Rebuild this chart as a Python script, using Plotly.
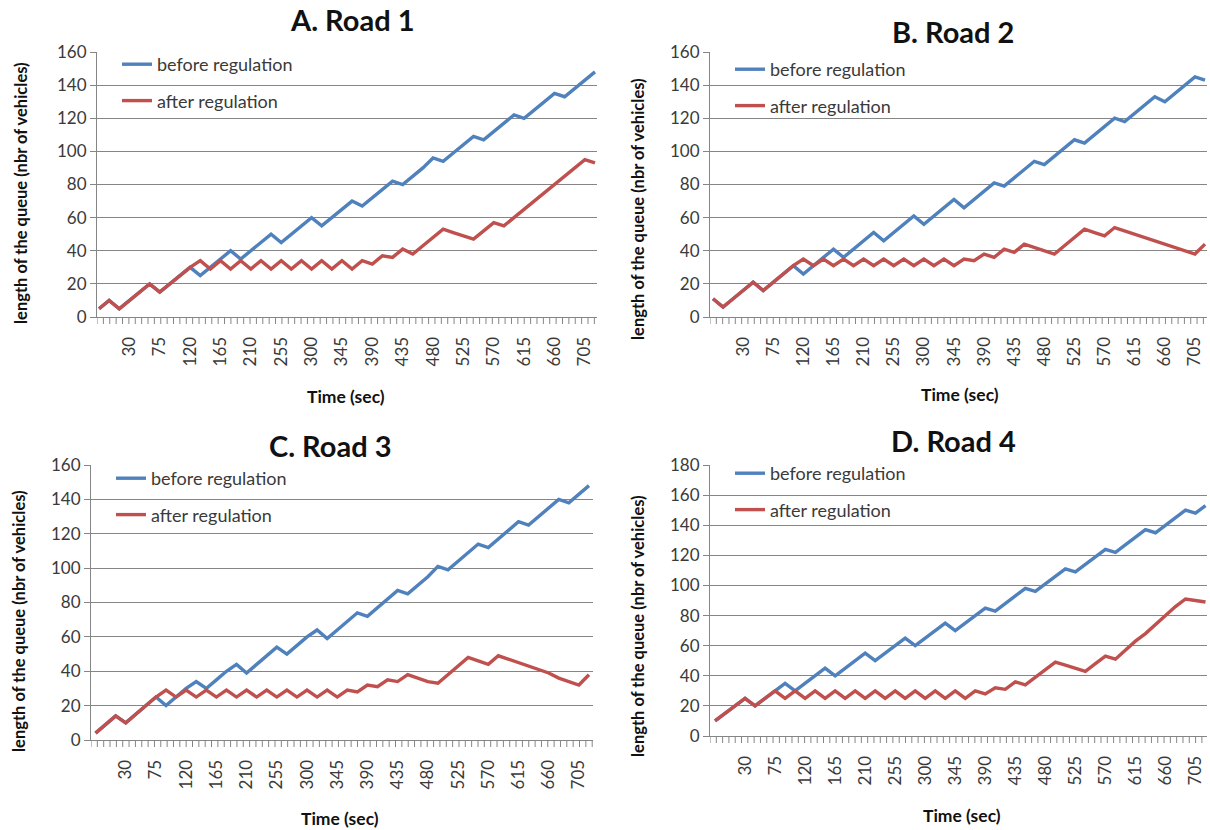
import plotly.graph_objects as go

# ---------------- data ----------------
time_index = list(range(50))
tick_index = [3, 6, 9, 12, 15, 18, 21, 24, 27, 30, 33, 36, 39, 42, 45, 48]
tick_labels = ["30", "75", "120", "165", "210", "255", "300", "345", "390",
               "435", "480", "525", "570", "615", "660", "705"]

before_A = [5, 10, 5, 10, 15, 20, 15, 20, 25, 30,
            25, 30, 35, 40, 35, 40, 45, 50, 45, 50,
            55, 60, 55, 60, 65, 70, 67, 72, 77, 82,
            80, 85, 90, 96, 94, 99, 104, 109, 107, 112,
            117, 122, 120, 125, 130, 135, 133, 138, 143, 148]
after_A = [5, 10, 5, 10, 15, 20, 15, 20, 25, 30,
           34, 29, 34, 29, 34, 29, 34, 29, 34, 29,
           34, 29, 34, 29, 34, 29, 34, 32, 37, 36,
           41, 38, 43, 48, 53, 51, 49, 47, 52, 57,
           55, 60, 65, 70, 75, 80, 85, 90, 95, 93]

before_B = [11, 6, 11, 16, 21, 16, 21, 26, 31, 26,
            31, 36, 41, 36, 41, 46, 51, 46, 51, 56,
            61, 56, 61, 66, 71, 66, 71, 76, 81, 79,
            84, 89, 94, 92, 97, 102, 107, 105, 110, 115,
            120, 118, 123, 128, 133, 130, 135, 140, 145, 143]
after_B = [11, 6, 11, 16, 21, 16, 21, 26, 31, 35,
           31, 35, 31, 35, 31, 35, 31, 35, 31, 35,
           31, 35, 31, 35, 31, 35, 34, 38, 36, 41,
           39, 44, 42, 40, 38, 43, 48, 53, 51, 49,
           54, 52, 50, 48, 46, 44, 42, 40, 38, 44]

before_C = [4, 9, 14, 10, 15, 20, 25, 20, 25, 30,
            34, 30, 35, 40, 44, 39, 44, 49, 54, 50,
            55, 60, 64, 59, 64, 69, 74, 72, 77, 82,
            87, 85, 90, 95, 101, 99, 104, 109, 114, 112,
            117, 122, 127, 125, 130, 135, 140, 138, 143, 148]
after_C = [4, 9, 14, 10, 15, 20, 25, 29, 25, 29,
           25, 29, 25, 29, 25, 29, 25, 29, 25, 29,
           25, 29, 25, 29, 25, 29, 28, 32, 31, 35,
           34, 38, 36, 34, 33, 38, 43, 48, 46, 44,
           49, 47, 45, 43, 41, 39, 36, 34, 32, 38]

before_D = [10, 15, 20, 25, 20, 25, 30, 35, 30, 35,
            40, 45, 40, 45, 50, 55, 50, 55, 60, 65,
            60, 65, 70, 75, 70, 75, 80, 85, 83, 88,
            93, 98, 96, 101, 106, 111, 109, 114, 119, 124,
            122, 127, 132, 137, 135, 140, 145, 150, 148, 153]
after_D = [10, 15, 20, 25, 20, 25, 30, 25, 30, 25,
           30, 25, 30, 25, 30, 25, 30, 25, 30, 25,
           30, 25, 30, 25, 30, 25, 30, 28, 32, 31,
           36, 34, 39, 44, 49, 47, 45, 43, 48, 53,
           51, 57, 63, 68, 74, 80, 86, 91, 90, 89]

panel_titles = ["A. Road 1", "B. Road 2", "C. Road 3", "D. Road 4"]
series_names = ["before regulation", "after regulation"]
before_all = [before_A, before_B, before_C, before_D]
after_all = [after_A, after_B, after_C, after_D]
y_max = [160, 160, 160, 180]

# ---------------- layout helpers ----------------
W, H = 1210, 830
BLUE = "#4F81BD"
RED = "#C0504D"
GRID = "#858585"
TXT = "#3A3A3A"
FONT = "Lato"
TICK_STEP = 0.63   # spacing of the small category tick marks, in index units
TICK_PX = 7        # length of those tick marks in pixels


def fx(px):
    return px / W


def fy(py):
    return 1 - py / H


# panel boxes in pixels
panels = [
    dict(l=97, r=597, t=52, b=317, xr=[-0.2, 49.2], title=(352, 20), ytitle=(21, 193), xtitle=(346, 396), leg=(117, 46)),
    dict(l=710, r=1207, t=52, b=317, xr=[-0.3, 49.2], title=(953, 31), ytitle=(638, 209), xtitle=(960, 395), leg=(730, 51)),
    dict(l=91, r=593, t=465, b=740, xr=[-0.45, 49.4], title=(330, 445), ytitle=(19, 621), xtitle=(340, 818), leg=(111, 460)),
    dict(l=710, r=1207, t=465, b=736, xr=[-0.5, 49.15], title=(954, 440), ytitle=(638, 626), xtitle=(962, 815), leg=(730, 455)),
]

fig = go.Figure()
annotations = []
shapes = []
layout_axes = {}

for k, p in enumerate(panels):
    n = "" if k == 0 else str(k + 1)
    leg_name = "legend" + n
    x0, x1 = p["xr"]
    plot_h = p["b"] - p["t"]

    fig.add_trace(go.Scatter(
        x=time_index, y=before_all[k], mode="lines", name=series_names[0],
        line=dict(color=BLUE, width=3.4), xaxis="x" + n, yaxis="y" + n,
        legend=leg_name, legendgroup="b" + n))
    fig.add_trace(go.Scatter(
        x=time_index, y=after_all[k], mode="lines", name=series_names[1],
        line=dict(color=RED, width=3.4), xaxis="x" + n, yaxis="y" + n,
        legend=leg_name, legendgroup="a" + n))

    # small category tick marks below the x axis
    v = x0
    while v <= x1 + 1e-9:
        shapes.append(dict(type="line", xref="x" + n, yref="y" + n + " domain",
                           x0=v, x1=v, y0=0, y1=-TICK_PX / plot_h,
                           line=dict(color=GRID, width=1), layer="above"))
        v += TICK_STEP

    layout_axes["xaxis" + n] = dict(
        domain=[fx(p["l"]), fx(p["r"])], anchor="y" + n, range=p["xr"],
        tickmode="array", tickvals=tick_index, ticktext=tick_labels,
        tickangle=-90, ticks="outside", ticklen=12, tickcolor="rgba(0,0,0,0)",
        tickfont=dict(family=FONT, size=17, color=TXT),
        showgrid=False, zeroline=False, showline=True, linecolor=GRID, linewidth=1,
        automargin=False, fixedrange=True)
    layout_axes["yaxis" + n] = dict(
        domain=[fy(p["b"]), fy(p["t"])], anchor="x" + n, range=[0, y_max[k]],
        dtick=20, tick0=0, ticks="outside", ticklen=6, tickcolor=GRID,
        tickfont=dict(family=FONT, size=17, color=TXT),
        showgrid=True, gridcolor=GRID, gridwidth=1, zeroline=False,
        showline=True, linecolor=GRID, linewidth=1, automargin=False, fixedrange=True)

    layout_axes[leg_name] = dict(
        x=fx(p["leg"][0]), y=fy(p["leg"][1]), xanchor="left", yanchor="top",
        bgcolor="rgba(0,0,0,0)", font=dict(family=FONT, size=18, color=TXT),
        tracegroupgap=10, itemwidth=30)

    annotations.append(dict(
        text="<b>" + panel_titles[k] + "</b>", x=fx(p["title"][0]), y=fy(p["title"][1]),
        xref="paper", yref="paper", xanchor="center", yanchor="middle", showarrow=False,
        font=dict(family=FONT, size=29, color="#111111")))
    annotations.append(dict(
        text="<b>length of the queue (nbr of vehicles)</b>", x=fx(p["ytitle"][0]), y=fy(p["ytitle"][1]),
        xref="paper", yref="paper", xanchor="center", yanchor="middle", showarrow=False,
        textangle=-90, font=dict(family=FONT, size=16.5, color="#111111")))
    annotations.append(dict(
        text="<b>Time (sec)</b>", x=fx(p["xtitle"][0]), y=fy(p["xtitle"][1]),
        xref="paper", yref="paper", xanchor="center", yanchor="middle", showarrow=False,
        font=dict(family=FONT, size=17.5, color="#111111")))

fig.update_layout(
    width=W, height=H, margin=dict(l=0, r=0, t=0, b=0),
    paper_bgcolor="white", plot_bgcolor="white",
    font=dict(family=FONT, color=TXT),
    annotations=annotations, shapes=shapes, **layout_axes)

fig.write_html("out.html", config={"displayModeBar": False},
               post_script="document.body.style.margin='0';document.body.style.overflow='hidden';")
